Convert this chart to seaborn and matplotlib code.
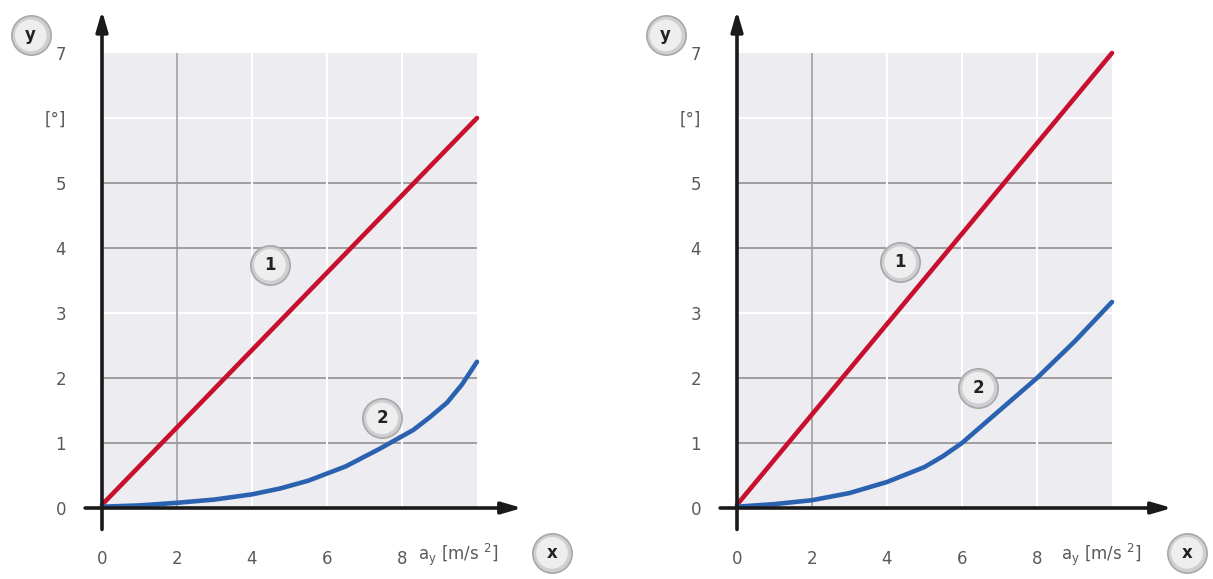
import matplotlib
matplotlib.use("Agg")
import matplotlib.pyplot as plt
import pandas as pd
import seaborn as sns

# values (x in m/s^2, y in degrees)
x_red = [0, 10]
red_left = [0.05, 6.0]
red_right = [0.05, 7.0]

x_blue_left = [0, 1, 2, 3, 4, 4.75, 5.5, 6.5, 7.4, 8.3, 8.75, 9.2, 9.6, 10]
blue_left = [0.02, 0.04, 0.08, 0.13, 0.21, 0.3, 0.42, 0.64, 0.91, 1.2, 1.4, 1.62, 1.9, 2.25]

x_blue_right = [0, 1, 2, 3, 4, 5, 5.5, 6, 7, 8, 9, 10]
blue_right = [0.02, 0.06, 0.12, 0.23, 0.4, 0.63, 0.8, 1.0, 1.5, 2.0, 2.56, 3.17]

x_ticks = [0, 2, 4, 6, 8]
y_ticks = [0, 1, 2, 3, 4, 5, 6, 7]
y_labels = ["0", "1", "2", "3", "4", "5", "[°]", "7"]

RED = "#c8102e"
BLUE = "#2b62b0"
BG = "#ececf1"

sns.set_style("white")
plt.rcParams["font.family"] = ["DejaVu Sans"]

fig = plt.figure(figsize=(12.13, 5.79), dpi=100)
W, H = 1213, 579


def badge(ax, x, y, label):
    # grey round button with a lighter centre
    ax.scatter([x], [y], s=800, facecolor="#cfcfd3", edgecolor="#a8a8a8",
               linewidth=1.2, clip_on=False, zorder=6)
    ax.scatter([x], [y], s=520, facecolor="#eeeeef", edgecolor="none",
               clip_on=False, zorder=6)
    ax.text(x, y, label, ha="center", va="center", fontsize=12,
            fontweight="bold", color="#222222", zorder=7, clip_on=False)


def panel(left_px, red_y, bx, by, x_end, one_pos, two_pos, xlab_x):
    ax = fig.add_axes([left_px / W, (H - 508) / H, 375 / W, 455 / H])
    ax.set_facecolor(BG)
    ax.set_xlim(0, 10)
    ax.set_ylim(0, 7)
    for s in ax.spines.values():
        s.set_visible(False)

    # grid: some lines dark, some white, as in the picture
    for yv in [1, 2, 4, 5]:
        ax.axhline(yv, color="#8a8a8a", lw=1.1, zorder=1)
    for yv in [3, 6]:
        ax.axhline(yv, color="white", lw=1.5, zorder=1)
    ax.axvline(2, color="#9a9a9a", lw=1.1, zorder=1)
    for xv in [4, 6, 8]:
        ax.axvline(xv, color="white", lw=1.5, zorder=1)

    df_red = pd.DataFrame({"x": x_red, "y": red_y})
    df_blue = pd.DataFrame({"x": bx, "y": by})
    sns.lineplot(data=df_red, x="x", y="y", color=RED, lw=3.3, ax=ax,
                 zorder=4, clip_on=False)
    sns.lineplot(data=df_blue, x="x", y="y", color=BLUE, lw=3.3, ax=ax,
                 zorder=4, clip_on=False)

    # axis arrows
    arrow = dict(arrowstyle="-|>,head_length=1.2,head_width=0.35",
                 lw=2.6, color="#1a1a1a", shrinkA=0, shrinkB=0)
    ax.annotate("", xy=(0, 7.65), xytext=(0, -0.33), arrowprops=arrow,
                annotation_clip=False, zorder=5)
    ax.annotate("", xy=(x_end, 0), xytext=(-0.45, 0), arrowprops=arrow,
                annotation_clip=False, zorder=5)

    ax.set_xticks(x_ticks)
    ax.set_xticklabels([str(v) for v in x_ticks])
    ax.set_yticks(y_ticks)
    ax.set_yticklabels(y_labels)
    ax.tick_params(axis="both", length=0, labelsize=12, labelcolor="#5a5a5a")
    ax.tick_params(axis="x", pad=30)
    ax.tick_params(axis="y", pad=26)
    ax.set_xlabel("")
    ax.set_ylabel("")

    ax.text(xlab_x, -0.72, r"a$_\mathregular{y}$ [m/s $^2$]", ha="center",
            va="center", fontsize=12, color="#5a5a5a", clip_on=False)

    badge(ax, -1.9, 7.27, "y")
    badge(ax, 12.0, -0.69, "x")
    badge(ax, one_pos[0], one_pos[1], "1")
    badge(ax, two_pos[0], two_pos[1], "2")
    return ax


panel(102, red_left, x_blue_left, blue_left, 11.2, (4.48, 3.74), (7.47, 1.38), 9.5)
panel(737, red_right, x_blue_right, blue_right, 11.6, (4.35, 3.78), (6.43, 1.85), 9.7)

fig.savefig("out.png", dpi=100)
